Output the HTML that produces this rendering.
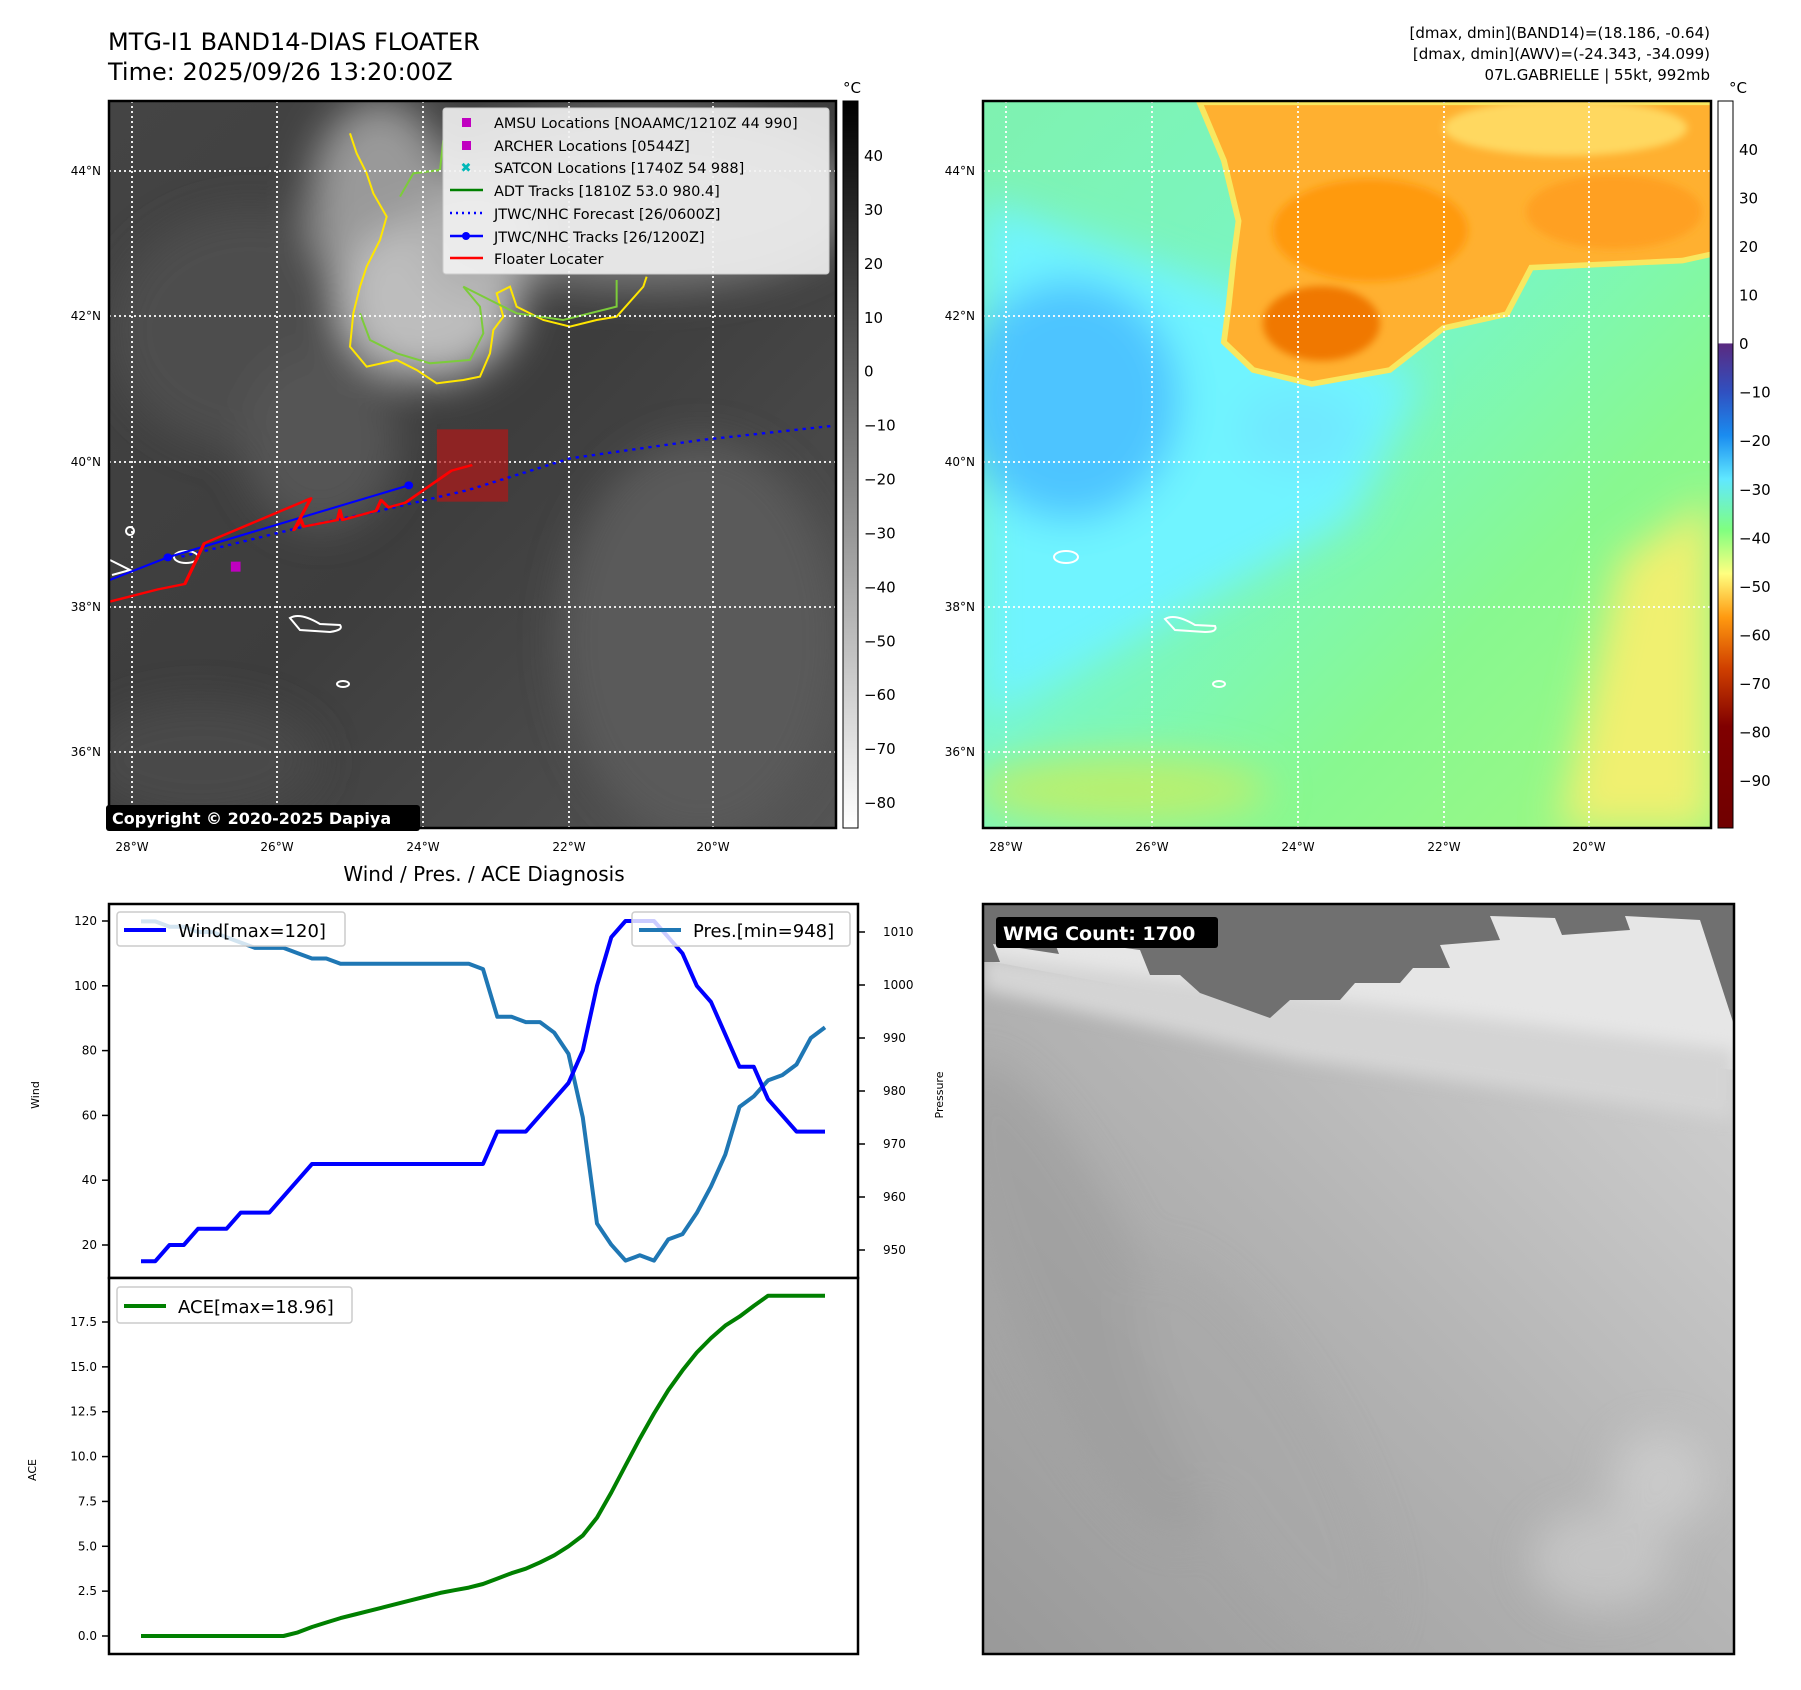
<!DOCTYPE html>
<html><head><meta charset="utf-8">
<style>
html,body{margin:0;padding:0;background:#fff;}
svg{display:block;font-family:"DejaVu Sans","Liberation Sans",sans-serif;}
</style></head>
<body>
<svg id="root" width="1801" height="1690" viewBox="0 0 1801 1690" xmlns="http://www.w3.org/2000/svg">
<defs>
  <linearGradient id="cbGray" x1="0" y1="0" x2="0" y2="1">
    <stop offset="0" stop-color="#000"/><stop offset="1" stop-color="#fff"/>
  </linearGradient>
  <linearGradient id="cbColor" x1="0" y1="0" x2="0" y2="1">
    <stop offset="0" stop-color="#fff"/><stop offset="0.333" stop-color="#fff"/>
    <stop offset="0.334" stop-color="#5a2a80"/><stop offset="0.40" stop-color="#3050c0"/>
    <stop offset="0.46" stop-color="#1a8cf0"/><stop offset="0.52" stop-color="#60e8ff"/>
    <stop offset="0.59" stop-color="#80ff80"/><stop offset="0.65" stop-color="#ffff80"/>
    <stop offset="0.71" stop-color="#ff9a10"/><stop offset="0.78" stop-color="#d04000"/>
    <stop offset="0.86" stop-color="#800000"/><stop offset="1" stop-color="#700000"/>
  </linearGradient>
  <linearGradient id="ltBg" x1="0" y1="0" x2="1" y2="1">
    <stop offset="0" stop-color="#444"/><stop offset="0.5" stop-color="#3d3d3d"/><stop offset="1" stop-color="#555"/>
  </linearGradient>
  <linearGradient id="rtBg" x1="0" y1="0" x2="1" y2="1">
    <stop offset="0" stop-color="#7ff2b0"/><stop offset="0.45" stop-color="#78f7c8"/><stop offset="0.7" stop-color="#88f890"/><stop offset="1" stop-color="#a0f880"/>
  </linearGradient>
  <linearGradient id="brBg" x1="0" y1="1" x2="1" y2="0">
    <stop offset="0" stop-color="#999"/><stop offset="0.5" stop-color="#b4b4b4"/><stop offset="1" stop-color="#d6d6d6"/>
  </linearGradient>
  <filter id="blur20"><feGaussianBlur stdDeviation="20"/></filter>
  <filter id="blur8"><feGaussianBlur stdDeviation="8"/></filter>
  <clipPath id="clipL"><rect x="109" y="101" width="727" height="727"/></clipPath>
  <clipPath id="clipR"><rect x="983" y="101" width="728" height="727"/></clipPath>
  <clipPath id="clipB"><rect x="983" y="904" width="751" height="750"/></clipPath>
</defs>

<text x="108" y="50" font-size="24" fill="#000">MTG-I1 BAND14-DIAS FLOATER</text>
<text x="108" y="80" font-size="24" fill="#000">Time: 2025/09/26 13:20:00Z</text>
<g font-size="15" text-anchor="end" fill="#000">
  <text x="1710" y="38">[dmax, dmin](BAND14)=(18.186, -0.64)</text>
  <text x="1710" y="59">[dmax, dmin](AWV)=(-24.343, -34.099)</text>
  <text x="1710" y="80">07L.GABRIELLE | 55kt, 992mb</text>
</g>

<!-- LEFT MAP -->
<g>
  <g clip-path="url(#clipL)">
    <rect x="109" y="101" width="727" height="727" fill="url(#ltBg)"/>
    <g filter="url(#blur20)">
      <ellipse cx="250" cy="330" rx="140" ry="120" fill="#4e4e4e"/>
      <ellipse cx="640" cy="200" rx="220" ry="90" fill="#777"/>
      <ellipse cx="380" cy="200" rx="70" ry="100" fill="#999"/>
      <ellipse cx="430" cy="300" rx="90" ry="80" fill="#bdbdbd"/>
      <ellipse cx="480" cy="240" rx="60" ry="60" fill="#b0b0b0"/>
      <ellipse cx="320" cy="440" rx="80" ry="90" fill="#555"/>
      <ellipse cx="700" cy="640" rx="140" ry="200" fill="#5a5a5a"/>
      <ellipse cx="200" cy="760" rx="120" ry="60" fill="#4a4a4a"/>
    </g>
    <g transform="translate(330,100) scale(0.3333)" fill="none" stroke-width="6">
      <path d="M60,100 L80,160 L110,220 L130,280 L170,350 L150,420 L110,500 L90,560 L70,640 L60,740 L110,800 L200,780 L260,810 L320,850 L400,840 L450,830 L480,760 L490,690 L520,650 L500,580 L540,560 L560,620 L640,660 L720,680 L800,660 L860,650 L940,560 L950,530" stroke="#ffe600"/>
      <path d="M90,640 L120,720 L200,760 L300,790 L420,780 L460,700 L450,620 L400,560 L480,600 L560,640 L700,660 L860,620 L860,540 M210,290 L250,220 L330,210 L340,120" stroke="#7ccc3a"/>
    </g>
    <g stroke="#fff" stroke-width="1.8" stroke-dasharray="2,3">
      <line x1="132" y1="101" x2="132" y2="828"/><line x1="277" y1="101" x2="277" y2="828"/>
      <line x1="423" y1="101" x2="423" y2="828"/><line x1="569" y1="101" x2="569" y2="828"/>
      <line x1="713" y1="101" x2="713" y2="828"/>
      <line x1="109" y1="171" x2="836" y2="171"/><line x1="109" y1="316" x2="836" y2="316"/>
      <line x1="109" y1="462" x2="836" y2="462"/><line x1="109" y1="607" x2="836" y2="607"/>
      <line x1="109" y1="752" x2="836" y2="752"/>
    </g>
    <g fill="none" stroke="#fff" stroke-width="2">
      <path d="M290,618 Q300,612 320,624 L340,625 Q344,630 330,632 L300,630 Z"/>
      <ellipse cx="186" cy="557" rx="12" ry="6"/><ellipse cx="343" cy="684" rx="6" ry="3"/>
      <path d="M110,560 L130,570 L112,575"/><ellipse cx="130" cy="531" rx="4" ry="4"/>
    </g>
    <g transform="translate(100,380) scale(0.4847,0.3333)">
      <rect x="695" y="148" width="147" height="217" fill="#b01818" fill-opacity="0.7"/>
      <path d="M168,530 L420,440 L575,393 L760,330 L970,235 L1240,180 L1515,137" fill="none" stroke="#0000ff" stroke-width="7" stroke-dasharray="7,10"/>
      <path d="M20,600 L140,532 L637,316" fill="none" stroke="#0000ff" stroke-width="6"/>
      <ellipse cx="140" cy="532" rx="9" ry="12" fill="#0000ff"/><ellipse cx="637" cy="316" rx="9" ry="12" fill="#0000ff"/>
      <path d="M20,665 L120,628 L175,612 L215,490 L435,355 L400,450 L415,420 L420,440 L490,420 L495,390 L500,420 L570,392 L580,360 L595,382 L630,368 L725,272 L768,255" fill="none" stroke="#ff0000" stroke-width="7" stroke-linejoin="round"/>
      <rect x="270" y="545" width="20" height="30" fill="#c000c0"/>
    </g>
  </g>
  <rect x="109" y="101" width="727" height="727" fill="none" stroke="#000" stroke-width="2.5"/>
  <g font-size="14.5" fill="#000">
    <rect x="443" y="108" width="386" height="166" rx="3" fill="#f2f2f2" fill-opacity="0.9" stroke="#ccc"/>
    <rect x="462" y="118" width="9" height="9" fill="#c000c0"/>
    <text x="494" y="128">AMSU Locations [NOAAMC/1210Z 44 990]</text>
    <rect x="462" y="141" width="9" height="9" fill="#c000c0"/>
    <text x="494" y="151">ARCHER Locations [0544Z]</text>
    <text x="466" y="172" fill="#00b8b8" text-anchor="middle" font-weight="bold" font-size="13">✖</text>
    <text x="494" y="173">SATCON Locations [1740Z 54 988]</text>
    <line x1="450" y1="190" x2="483" y2="190" stroke="#008000" stroke-width="2.5"/>
    <text x="494" y="196">ADT Tracks [1810Z 53.0 980.4]</text>
    <line x1="450" y1="213" x2="483" y2="213" stroke="#0000ff" stroke-width="2.5" stroke-dasharray="2,4"/>
    <text x="494" y="219">JTWC/NHC Forecast [26/0600Z]</text>
    <line x1="450" y1="236" x2="483" y2="236" stroke="#0000ff" stroke-width="2.5"/><circle cx="466" cy="236" r="4" fill="#0000ff"/>
    <text x="494" y="242">JTWC/NHC Tracks [26/1200Z]</text>
    <line x1="450" y1="258" x2="483" y2="258" stroke="#ff0000" stroke-width="2.5"/>
    <text x="494" y="264">Floater Locater</text>
  </g>
  <rect x="106" y="805" width="314" height="26" rx="3" fill="#000"/>
  <text x="112" y="824" font-size="16" font-weight="bold" fill="#fff">Copyright © 2020-2025 Dapiya</text>
  <g font-size="12" fill="#000" text-anchor="end">
    <text x="101" y="175">44°N</text><text x="101" y="320">42°N</text><text x="101" y="466">40°N</text><text x="101" y="611">38°N</text><text x="101" y="756">36°N</text>
  </g>
  <g font-size="12" fill="#000" text-anchor="middle">
    <text x="132" y="851">28°W</text><text x="277" y="851">26°W</text><text x="423" y="851">24°W</text><text x="569" y="851">22°W</text><text x="713" y="851">20°W</text>
  </g>
</g>

<g>
  <rect x="843" y="101" width="15" height="727" fill="url(#cbGray)" stroke="#000" stroke-width="1"/>
  <text x="852" y="93" font-size="15" text-anchor="middle">°C</text>
  <g id="cb1ticks" font-size="15" fill="#000"></g>
</g>

<!-- RIGHT MAP -->
<g>
  <g clip-path="url(#clipR)">
    <rect x="983" y="101" width="728" height="727" fill="url(#rtBg)"/>
    <g filter="url(#blur20)">
      <path d="M983,200 L1230,290 L1420,380 L1350,520 L1200,600 L983,720 Z" fill="#70f4ff"/>
      <ellipse cx="1070" cy="400" rx="110" ry="120" fill="#4ec4ff"/>
      <ellipse cx="1300" cy="430" rx="60" ry="40" fill="#70e8ff"/>
      <path d="M1620,560 L1711,500 L1711,828 L1560,828 Z" fill="#f0f070"/>
      <ellipse cx="1120" cy="790" rx="150" ry="35" fill="#b8f070"/>
    </g>
    <g transform="translate(980,100) scale(0.4878,0.4655)">
      <path d="M450,5 L1505,5 L1505,330 L1440,345 L1130,360 L1080,460 L950,490 L840,580 L680,610 L560,580 L500,520 L510,440 L520,340 L530,260 L500,130 Z" fill="#ffb030" stroke="#f8e860" stroke-width="12"/>
      <g filter="url(#blur8)">
        <ellipse cx="800" cy="280" rx="200" ry="110" fill="#ff9a10"/>
        <ellipse cx="700" cy="480" rx="120" ry="80" fill="#f07800"/>
        <ellipse cx="1300" cy="240" rx="180" ry="80" fill="#ffa020"/>
        <ellipse cx="1200" cy="60" rx="250" ry="60" fill="#ffd860"/>
      </g>
    </g>
    <g stroke="#fff" stroke-width="1.8" stroke-dasharray="2,3">
      <line x1="1006" y1="101" x2="1006" y2="828"/><line x1="1152" y1="101" x2="1152" y2="828"/>
      <line x1="1298" y1="101" x2="1298" y2="828"/><line x1="1444" y1="101" x2="1444" y2="828"/>
      <line x1="1589" y1="101" x2="1589" y2="828"/>
      <line x1="983" y1="171" x2="1711" y2="171"/><line x1="983" y1="316" x2="1711" y2="316"/>
      <line x1="983" y1="462" x2="1711" y2="462"/><line x1="983" y1="607" x2="1711" y2="607"/>
      <line x1="983" y1="752" x2="1711" y2="752"/>
    </g>
    <g fill="none" stroke="#fff" stroke-width="2">
      <path d="M1165,619 Q1175,613 1195,625 L1215,626 Q1218,632 1205,632 L1175,630 Z"/>
      <ellipse cx="1066" cy="557" rx="12" ry="6"/><ellipse cx="1219" cy="684" rx="6" ry="3"/>
    </g>
  </g>
  <rect x="983" y="101" width="728" height="727" fill="none" stroke="#000" stroke-width="2.5"/>
  <g font-size="12" fill="#000" text-anchor="end">
    <text x="975" y="175">44°N</text><text x="975" y="320">42°N</text><text x="975" y="466">40°N</text><text x="975" y="611">38°N</text><text x="975" y="756">36°N</text>
  </g>
  <g font-size="12" fill="#000" text-anchor="middle">
    <text x="1006" y="851">28°W</text><text x="1152" y="851">26°W</text><text x="1298" y="851">24°W</text><text x="1444" y="851">22°W</text><text x="1589" y="851">20°W</text>
  </g>
</g>

<g>
  <rect x="1718" y="101" width="15" height="727" fill="url(#cbColor)" stroke="#000" stroke-width="1"/>
  <text x="1738" y="93" font-size="15" text-anchor="middle">°C</text>
  <g id="cb2ticks" font-size="15" fill="#000"></g>
</g>

<text x="484" y="881" font-size="20" text-anchor="middle">Wind / Pres. / ACE Diagnosis</text>
<g id="windPanel"></g>
<g id="acePanel"></g>

<!-- Bottom right -->
<g>
  <g clip-path="url(#clipB)">
    <rect x="983" y="904" width="751" height="750" fill="url(#brBg)"/>
    <g filter="url(#blur20)" opacity="0.6">
      <ellipse cx="1080" cy="1300" rx="70" ry="260" fill="#9c9c9c" transform="rotate(-25 1080 1300)"/>
      <ellipse cx="1260" cy="1450" rx="70" ry="220" fill="#a8a8a8" transform="rotate(-30 1260 1450)"/>
      <ellipse cx="1600" cy="1560" rx="70" ry="50" fill="#d0d0d0"/>
      <ellipse cx="1660" cy="1480" rx="50" ry="50" fill="#d4d4d4"/>
    </g>
    <path d="M983,960 L1200,1000 L1400,1030 L1734,1070 L1734,904 L983,904 Z" fill="#e6e6e6"/>
    <path d="M983,990 L1300,1060 L1734,1120 L1734,1050 L983,955 Z" fill="#d4d4d4" filter="url(#blur8)"/>
    <path d="M983,904 L983,962 L1000,962 L993,944 L1059,954 L1050,930 L1105,930 L1110,946 L1140,950 L1150,975 L1180,975 L1200,993 L1270,1018 L1290,1000 L1340,1000 L1355,983 L1400,983 L1413,968 L1450,968 L1440,945 L1500,940 L1490,916 L1555,918 L1562,935 L1630,930 L1625,916 L1700,920 L1734,1025 L1734,904 Z" fill="#707070"/>
  </g>
  <rect x="983" y="904" width="751" height="750" fill="none" stroke="#000" stroke-width="2.5"/>
  <rect x="996" y="917" width="222" height="31" rx="3" fill="#000"/>
  <text x="1003" y="940" font-size="19" font-weight="bold" fill="#fff">WMG Count: 1700</text>
</g>

<script>
const windValues = [15,15,20,20,25,25,25,30,30,30,35,40,45,45,45,45,45,45,45,45,45,45,45,45,45,55,55,55,60,65,70,80,100,115,120,120,120,115,110,100,95,85,75,75,65,60,55,55,55];
const presValues = [1012,1012,1011,1011,1010,1010,1009,1008,1007,1007,1007,1006,1005,1005,1004,1004,1004,1004,1004,1004,1004,1004,1004,1004,1003,994,994,993,993,991,987,975,955,951,948,949,948,952,953,957,962,968,977,979,982,983,985,990,992];
const aceValues = [0,0,0,0,0,0,0,0,0,0,0,0.2,0.5,0.75,1.0,1.2,1.4,1.6,1.8,2.0,2.2,2.4,2.55,2.7,2.9,3.2,3.5,3.75,4.1,4.5,5.0,5.6,6.6,8.0,9.5,11.0,12.4,13.7,14.8,15.8,16.6,17.3,17.8,18.4,18.96,18.96,18.96,18.96,18.96];
const windTicks = [20,40,60,80,100,120];
const presTicks = [950,960,970,980,990,1000,1010];
const aceTicks = [0,2.5,5,7.5,10,12.5,15,17.5];
const cb1Ticks = [40,30,20,10,0,-10,-20,-30,-40,-50,-60,-70,-80];
const cb2Ticks = [40,30,20,10,0,-10,-20,-30,-40,-50,-60,-70,-80,-90];

const NS = 'http://www.w3.org/2000/svg';
function mk(tag, attrs, parent){const e=document.createElementNS(NS,tag);for(const k in attrs)e.setAttribute(k,attrs[k]);parent.appendChild(e);return e;}

const xL=109, xR=858, n=windValues.length;
const xPt = i => 141 + i*(825-141)/(n-1);
const yWind = v => 921 + (120-v)*(1245-921)/100;
const yPres = v => 932 + (1010-v)*(1250-932)/60;
const yAce = v => 1636 - v*(1636-1322)/17.5;
const yCb1 = v => 156 + (40-v)*(803-156)/120;
const yCb2 = v => 150 + (40-v)*(781-150)/130;
const fmt = v => (v<0?'\u2212'+Math.abs(v):String(v));

const cb1 = document.getElementById('cb1ticks');
cb1Ticks.forEach(v=>{
  const t=mk('text',{x:864,y:yCb1(v)+5},cb1); t.textContent=fmt(v);
  
  
});
const cb2 = document.getElementById('cb2ticks');
cb2Ticks.forEach(v=>{
  const t=mk('text',{x:1739,y:yCb2(v)+5},cb2); t.textContent=fmt(v);
  
  
});

const wp = document.getElementById('windPanel');
mk('rect',{x:xL,y:904,width:xR-xL,height:374,fill:'#fff'},wp);
function line(vals, yf, color, w, name, parent){
  const d = vals.map((v,i)=>(i?'L':'M')+xPt(i).toFixed(1)+','+yf(v).toFixed(1)).join(' ');
  const p = mk('path',{d:d,fill:'none',stroke:color,'stroke-width':w,'stroke-linejoin':'round'},parent);
  
  
}
line(presValues, yPres, '#1f77b4', 4, 'pressure-line', wp);
line(windValues, yWind, '#0000ff', 4, 'wind-line', wp);
mk('rect',{x:xL,y:904,width:xR-xL,height:374,fill:'none',stroke:'#000','stroke-width':2.5},wp);
windTicks.forEach(v=>{
  const y=yWind(v);
  mk('line',{x1:xL-7,y1:y,x2:xL,y2:y,stroke:'#000','stroke-width':1.5},wp);
  const t=mk('text',{x:xL-12,y:y+4,'font-size':12,'text-anchor':'end'},wp); t.textContent=v;
  
  
});
presTicks.forEach(v=>{
  const y=yPres(v);
  mk('line',{x1:xR,y1:y,x2:xR+7,y2:y,stroke:'#000','stroke-width':1.5},wp);
  const t=mk('text',{x:883,y:y+4,'font-size':12},wp); t.textContent=v;
  
  
});
const wl=mk('text',{x:39,y:1095,'font-size':11,'text-anchor':'middle',transform:'rotate(-90 39 1095)'},wp); wl.textContent='Wind';


const pl=mk('text',{x:943,y:1095,'font-size':11,'text-anchor':'middle',transform:'rotate(-90 943 1095)'},wp); pl.textContent='Pressure';


const lg1=mk('g',{},wp);


mk('rect',{x:117,y:912,width:228,height:34,rx:3,fill:'#fff','fill-opacity':0.8,stroke:'#ccc','stroke-width':1.5},lg1);
mk('line',{x1:124,y1:930,x2:166,y2:930,stroke:'#0000ff','stroke-width':4},lg1);
const lt1=mk('text',{x:178,y:937,'font-size':18},lg1); lt1.textContent='Wind[max=120]';
const lg2=mk('g',{},wp);


mk('rect',{x:632,y:912,width:218,height:34,rx:3,fill:'#fff','fill-opacity':0.8,stroke:'#ccc','stroke-width':1.5},lg2);
mk('line',{x1:639,y1:930,x2:681,y2:930,stroke:'#1f77b4','stroke-width':4},lg2);
const lt2=mk('text',{x:693,y:937,'font-size':18},lg2); lt2.textContent='Pres.[min=948]';

const ap = document.getElementById('acePanel');
mk('rect',{x:xL,y:1278,width:xR-xL,height:376,fill:'#fff'},ap);
line(aceValues, yAce, '#008000', 4, 'ace-line', ap);
mk('rect',{x:xL,y:1278,width:xR-xL,height:376,fill:'none',stroke:'#000','stroke-width':2.5},ap);
aceTicks.forEach(v=>{
  const y=yAce(v);
  mk('line',{x1:xL-7,y1:y,x2:xL,y2:y,stroke:'#000','stroke-width':1.5},ap);
  const t=mk('text',{x:xL-12,y:y+4,'font-size':12,'text-anchor':'end'},ap); t.textContent=v.toFixed(1);
  
  
});
const al=mk('text',{x:36,y:1470,'font-size':11,'text-anchor':'middle',transform:'rotate(-90 36 1470)'},ap); al.textContent='ACE';


const lg3=mk('g',{},ap);


mk('rect',{x:117,y:1287,width:235,height:36,rx:3,fill:'#fff','fill-opacity':0.8,stroke:'#ccc','stroke-width':1.5},lg3);
mk('line',{x1:124,y1:1306,x2:166,y2:1306,stroke:'#008000','stroke-width':4},lg3);
const lt3=mk('text',{x:178,y:1313,'font-size':18},lg3); lt3.textContent='ACE[max=18.96]';
</script>
</svg>
</body></html>
